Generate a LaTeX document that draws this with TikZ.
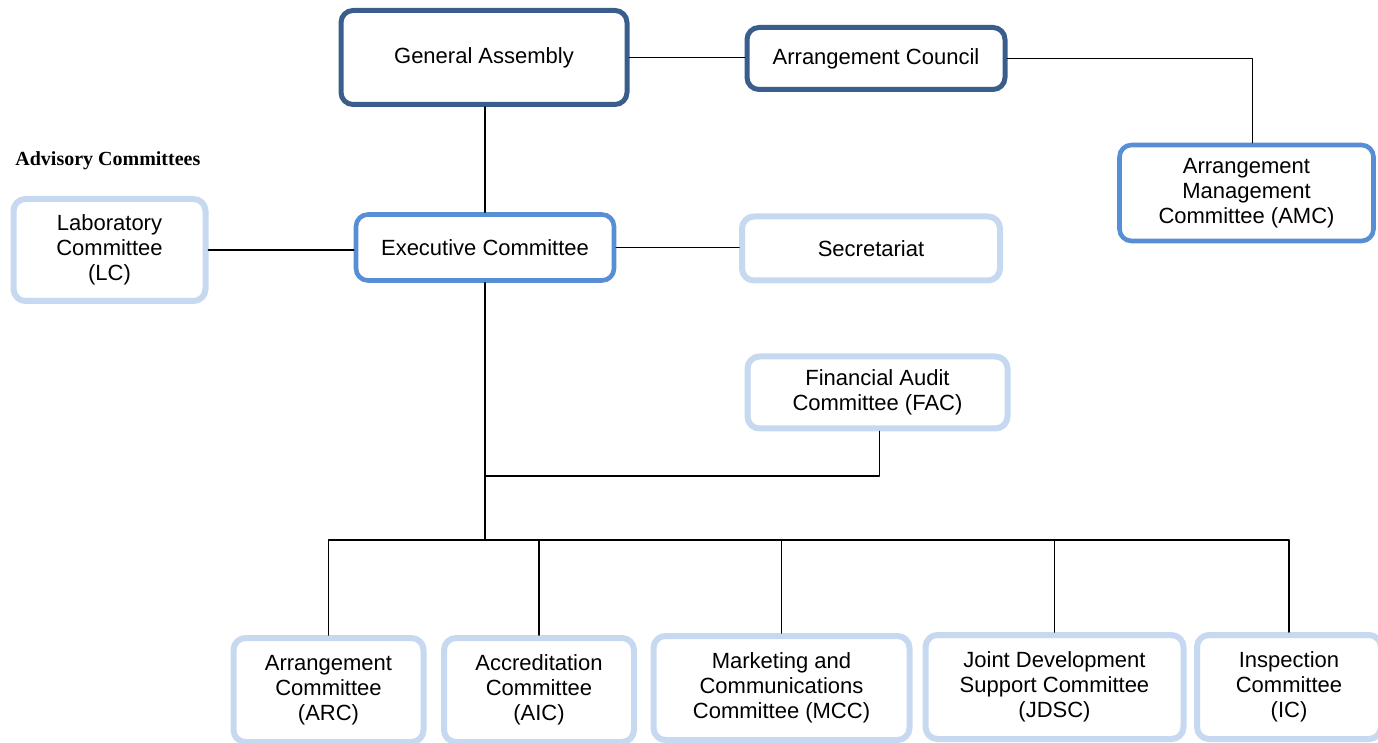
\documentclass[tikz,border=0pt]{standalone}
\usepackage{fontspec}
\setmainfont{Liberation Sans}
\newfontfamily\advfont{Liberation Serif}
\definecolor{boxdark}{RGB}{58,94,140}
\definecolor{boxmid}{RGB}{88,142,212}
\definecolor{boxlight}{RGB}{198,217,241}
\begin{document}
\begin{tikzpicture}[x=0.5pt,y=-0.5pt,line join=round,line cap=round]
		\tikzset{unit/.style={draw,rounded corners=6pt,fill=white,align=center,inner sep=0pt,
				font=\fontsize{11}{12.5}\selectfont},
			unit dark/.style={unit,draw=boxdark,line width=2.5pt},
			unit mid/.style={unit,draw=boxmid,line width=2.3pt},
			unit light/.style={unit,draw=boxlight,line width=3pt},
			link/.style={line width=0.8pt}}
		\useasboundingbox (0,0) rectangle (1378,743);
		% top level
		\node[unit dark,minimum width=143pt,minimum height=47pt] (ga) at (484,57.5) {General Assembly};
		\node[unit dark,minimum width=129pt,minimum height=31pt] (ac) at (876,58.5) {Arrangement Council};
		\node[unit mid,minimum width=127pt,minimum height=48pt] (amc) at (1246.5,193) {Arrangement\\Management\\Committee (AMC)};
		\node[anchor=base west,inner sep=0pt,font=\advfont\bfseries\fontsize{10}{12}\selectfont] (adv) at (15,166) {Advisory Committees};
		\node[unit light,minimum width=96pt,minimum height=51pt] (lc) at (109.5,250) {Laboratory\\Committee\\(LC)};
		\node[unit mid,minimum width=129pt,minimum height=33pt] (ec) at (485,247.5) {Executive Committee};
		\node[unit light,minimum width=129pt,minimum height=32pt] (sec) at (871,248.5) {Secretariat};
		\node[unit light,minimum width=130pt,minimum height=36pt] (fac) at (877.5,392.5) {Financial Audit\\Committee (FAC)};
		% committees
		\node[unit light,minimum width=95pt,minimum height=52pt] (arc) at (328.5,690) {Arrangement\\Committee\\(ARC)};
		\node[unit light,minimum width=95pt,minimum height=52pt] (aic) at (539,690) {Accreditation\\Committee\\(AIC)};
		\node[unit light,minimum width=128pt,minimum height=52pt] (mcc) at (781.5,688) {Marketing and\\Communications\\Committee (MCC)};
		\node[unit light,minimum width=129pt,minimum height=52pt] (jdsc) at (1054.5,687) {Joint Development\\Support Committee\\(JDSC)};
		\node[unit light,minimum width=92pt,minimum height=52pt] (ic) at (1289,687) {Inspection\\Committee\\(IC)};
		\coordinate (bus) at (485,540);
		\coordinate (facj) at (485,476);
		% links
		\draw[link] (ga.east) -- (ga.east-|ac.west);
		\draw[link] (ac.east) -| ([xshift=3pt]amc.north);
		\draw[link] (ec.north|-ga.south) -- (ec.north);
		\draw[link] (lc.east) -- (lc.east-|ec.west);
		\draw[link] (ec.east) -- (ec.east-|sec.west);
		\draw[link] (ec.south) -- (bus);
		\draw[link] ([xshift=1pt]fac.south) |- (facj);
		\draw[link] (arc.north) -- (arc.north|-bus) -- (ic.north|-bus) -- (ic.north);
		\foreach \n in {aic,mcc,jdsc}
		\draw[link] (\n.north) -- (\n.north|-bus);
\end{tikzpicture}
\end{document}
